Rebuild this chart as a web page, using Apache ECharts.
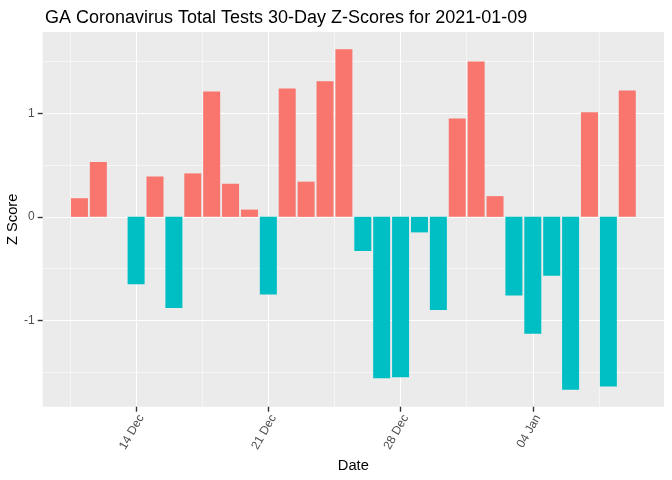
<!DOCTYPE html>
<html>
<head>
<meta charset="utf-8">
<title>GA Coronavirus Total Tests 30-Day Z-Scores</title>
<script src="https://cdn.jsdelivr.net/npm/echarts@6/dist/echarts.min.js"></script>
<style>
  html, body { margin: 0; padding: 0; background: #fff; }
  #chart { width: 672px; height: 480px; }
</style>
</head>
<body>
<div id="chart"></div>
<script>
// one bar per day, Dec 11 .. Jan 9 (null = no bar)
const dates = [
  '2020-12-11', '2020-12-12', '2020-12-13', '2020-12-14', '2020-12-15',
  '2020-12-16', '2020-12-17', '2020-12-18', '2020-12-19', '2020-12-20',
  '2020-12-21', '2020-12-22', '2020-12-23', '2020-12-24', '2020-12-25',
  '2020-12-26', '2020-12-27', '2020-12-28', '2020-12-29', '2020-12-30',
  '2020-12-31', '2021-01-01', '2021-01-02', '2021-01-03', '2021-01-04',
  '2021-01-05', '2021-01-06', '2021-01-07', '2021-01-08', '2021-01-09'
]
const zScores = [
  0.18, 0.53, null, -0.65, 0.39,
  -0.88, 0.42, 1.21, 0.32, 0.07,
  -0.75, 1.24, 0.34, 1.31, 1.62,
  -0.33, -1.56, -1.55, -0.15, -0.90,
  0.95, 1.50, 0.20, -0.76, -1.13,
  -0.57, -1.67, 1.01, -1.64, 1.22
]
// x ticks, as day index from the first date
const tickDays = [3, 10, 17, 24]
const tickLabels = ['14 Dec', '21 Dec', '28 Dec', '04 Jan']
const minorDays = [-0.5, 6.5, 13.5, 20.5, 27.5]
const yTicks = [-1, 0, 1]
const yMinor = [-1.5, -0.5, 0.5, 1.5]

const fillUp = '#F8766D'
const fillDown = '#00BFC4'
const textFont = 'Liberation Sans, Arial, sans-serif'

// ggplot-like 5% expansion
const xMin = -0.45 - 1.495
const xMax = 29.45 + 1.495
const yMin = -1.834
const yMax = 1.786

const barData = []
zScores.forEach((v, i) => {
  if (v !== null) {
    barData.push({
      value: [i, v],
      itemStyle: {color: v > 0 ? fillUp : fillDown}
    })
  }
})

const chart = echarts.init(document.getElementById('chart'))

// hidden axis that only draws grid lines at the given values
function gridAxis(pos, values, width) {
  return {
    type: 'value',
    min: pos === 'top' ? xMin : yMin,
    max: pos === 'top' ? xMax : yMax,
    position: pos,
    axisLine: {show: false, onZero: false},
    axisTick: {show: false, customValues: values},
    axisLabel: {show: false, customValues: values},
    splitLine: {show: true, lineStyle: {color: '#fff', width: width}}
  }
}

chart.setOption({
  animation: false,
  title: {
    text: 'GA Coronavirus Total Tests 30-Day Z-Scores for 2021-01-09',
    left: 40,
    top: 4,
    textStyle: {fontFamily: textFont, fontSize: 18, fontWeight: 'normal', color: '#000'}
  },
  grid: {
    left: 42.7,
    top: 32,
    right: 8,
    bottom: 73.3,
    outerBoundsMode: 'none',
    containLabel: false,
    show: true,
    backgroundColor: '#EBEBEB',
    borderWidth: 0,
    borderColor: 'rgba(0,0,0,0)'
  },
  xAxis: [
    {
      // ticks + labels, drawn above the panel background
      type: 'value',
      min: xMin,
      max: xMax,
      position: 'bottom',
      z: 5,
      name: 'Date',
      nameLocation: 'middle',
      nameGap: 52,
      nameMoveOverlap: false,
      nameTextStyle: {fontFamily: textFont, fontSize: 14.7, color: '#000'},
      axisLine: {show: true, onZero: false, lineStyle: {color: 'rgba(0,0,0,0)'}},
      axisTick: {
        show: true,
        inside: false,
        length: 5,
        customValues: tickDays,
        lineStyle: {color: '#333333', width: 1.4}
      },
      axisLabel: {
        customValues: tickDays,
        rotate: 60,
        verticalAlign: 'top',
        margin: 6,
        fontFamily: textFont,
        fontSize: 12,
        color: '#4D4D4D',
        formatter: (val) => tickLabels[tickDays.indexOf(val)] || ''
      },
      splitLine: {show: false}
    },
    gridAxis('top', tickDays, 1.1),
    gridAxis('top', minorDays, 0.55)
  ],
  yAxis: [
    {
      type: 'value',
      min: yMin,
      max: yMax,
      position: 'left',
      z: 5,
      name: 'Z Score',
      nameLocation: 'middle',
      nameGap: 22,
      nameMoveOverlap: false,
      nameTextStyle: {fontFamily: textFont, fontSize: 14.7, color: '#000'},
      axisLine: {show: true, onZero: false, lineStyle: {color: 'rgba(0,0,0,0)'}},
      axisTick: {
        show: true,
        inside: false,
        length: 5,
        customValues: yTicks,
        lineStyle: {color: '#333333', width: 1.4}
      },
      axisLabel: {
        customValues: yTicks,
        margin: 8,
        fontFamily: textFont,
        fontSize: 12,
        color: '#4D4D4D'
      },
      splitLine: {show: false}
    },
    gridAxis('right', yTicks, 1.1),
    gridAxis('right', yMinor, 0.55)
  ],
  series: [
    {
      type: 'bar',
      xAxisIndex: 0,
      yAxisIndex: 0,
      barWidth: 17,
      data: barData
    }
  ]
})
</script>
</body>
</html>
